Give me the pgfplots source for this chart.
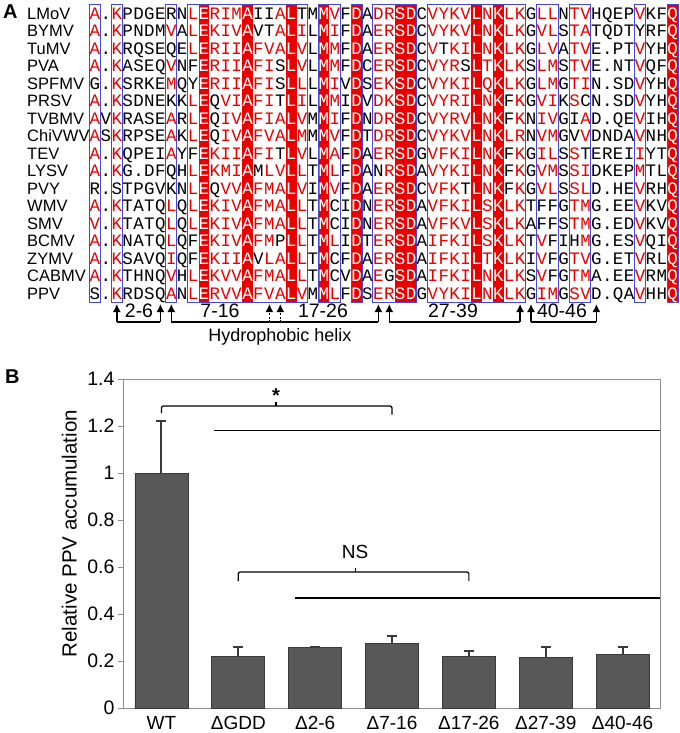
\documentclass[border=0pt]{standalone}
\usepackage{pgfplots}
\pgfplotsset{compat=1.18}
\usepackage{fontspec}
\setmainfont{Liberation Sans}
\newfontfamily\alnmono{Liberation Mono}
\usetikzlibrary{arrows.meta}
\definecolor{cr}{RGB}{235,0,0}
\definecolor{ck}{RGB}{0,0,0}
\definecolor{cw}{RGB}{255,255,255}
\definecolor{boxblue}{RGB}{70,70,225}
\definecolor{fillred}{RGB}{235,0,0}
\definecolor{bargray}{RGB}{88,88,88}
\definecolor{bardark}{RGB}{58,58,58}
\definecolor{axgray}{RGB}{140,140,140}
\newcount\cc
\def\alnfont{\alnmono\fontsize{17.5bp}{20bp}\selectfont}
\def\namefont{\fontsize{16.5bp}{20bp}\selectfont}
\def\annfont{\fontsize{19.5bp}{22bp}\selectfont}
\def\drawcell#1#2{\node[anchor=base,inner sep=0pt,text=c#2,font=\alnfont] at ({95+(\the\cc-1)*10.9},{\yy+5.8}) {#1};}
\def\procrow#1#2\endrow#3#4\endrow{\global\advance\cc by 1 \drawcell{#1}{#3}\ifx\relax#2\relax\else\procrow#2\endrow#4\endrow\fi}
\def\alnrow#1#2#3#4{\def\yy{#1}\global\cc=0 \node[anchor=base west,inner sep=0pt,font=\namefont] at (27,{#1+6}) {#2};\procrow#3\endrow#4\endrow}
\def\cx#1{95+(#1-1)*10.9}
\begin{document}
\begin{tikzpicture}
\useasboundingbox (0bp,0bp) rectangle (680bp,-733bp);
\begin{scope}[x=1bp,y=-1bp]
\node[anchor=base west,inner sep=0pt,font=\fontsize{20bp}{22bp}\selectfont\bfseries] at (3,18) {A};
\node[anchor=base west,inner sep=0pt,font=\fontsize{20bp}{22bp}\selectfont\bfseries] at (5,383) {B};
\foreach \c in {11,15,19,22,25,29,30,36,38,54} {\fill[fillred] ({\cx{\c}-5.45},4.5) rectangle ({\cx{\c}+5.45},302);}
\foreach \a/\b in {1/1,3/3,8/8,10/20,22/23,25/25,27/30,32/40,42/43,45/46,51/51,54/54} {\draw[boxblue,line width=1bp] ({\cx{\a}-5.45},4.5) rectangle ({\cx{\b}+5.45},302);}
\alnrow{13.3}{LMoV}{A.KPDGERNL ERIMAIIALT MMVFDADRSD CVYKVLNKLK GLLNTVHQEP VKFQ}{rkrkkkkkkr wrrrwkkrwk kwrkwkrrww krrrrwrwrr krrkrrkkkk rkkw}
\alnrow{30.8}{BYMV}{A.KPNDMVAL EKIVAVTALI LMIFDAERSD CVYKVLNKLK GVLSTATQDT YRFQ}{rkrkkkkrkr wrrrwkkrwr kwrkwkrrww krrrrwrwrr krrkrrkkkk kkkw}
\alnrow{48.3}{TuMV}{A.KRQSEQEL ERIIAFVALV LMMFDAERSD CVTKILNKLK GLVATVE.PT VYHQ}{rkrkkkkkkr wrrrwrrrwr kwrkwkrrww krkrrwrwrr krrkrrkkkk rkkw}
\alnrow{65.8}{PVA}{A.KASEQVNF ERIIAFISLV LMMFDCERSD CVYRSLTKLK SLMSTVE.NT VQFQ}{rkrkkkkrkk wrrrwrrkwr kwrkwkrrww krrrkwrwrr krrkrrkkkk rkkw}
\alnrow{83.3}{SPFMV}{G.KSRKEMQY ERIIAFISLL LMIVDSEKSD CVYKILQKLK GLMGTIN.SD VYHQ}{kkrkkkkrkk wrrrwrrkwr kwrkwkrrww krrrrwrwrr krrkrrkkkk rkkw}
\alnrow{100.8}{PRSV}{A.KSDNEKKL EQVIAFITLI LMMIDVDKSD CVYRILNKFK GVIKSCN.SD VYHQ}{rkrkkkkkkr wkrrwrrkwr kwrkwkrrww krrrrwrwkr krrkrkkkkk rkkw}
\alnrow{118.3}{TVBMV}{AVKRASEARL EQIVAFIALV MMIFDNDRSD CVYRVLNKFK NIVGIAD.QE VIHQ}{rkrkkkkrkr wkrrwrrrwr kwrkwkrrww krrrrwrwkr krrkkrkkkk rkkw}
\alnrow{135.8}{ChiVWV}{ASKRPSEAKL EQIVAFVALM MMVFDTDRSD CVYKVLNKLR NVMGVVDNDA VNHQ}{rkrkkkkrkr wkrrwrrrwr kwrkwkrrww krrrrwrwrr krrkkrkkkk rkkw}
\alnrow{153.3}{TEV}{A.KQPEIAYF EKIIAFITLV LMAFDAERSD GVFKILNKFK GILSSTEREI IYTQ}{rkrkkkkrkk wrrrwrrkwr kwrkwkrrww krrrrwrwkr krrkrkkkkk rkkw}
\alnrow{170.8}{LYSV}{A.KG.DFQHL EKMIAMLVLL TMLFDANRSD AVYKILNKFK GVMSSIDKEP MTLQ}{rkrkkkkkkr wrrrwkrrwr kwrkwkkrww krrrrwrwkr krrkrrkkkk rkkw}
\alnrow{188.3}{PVY}{R.STPGVKNL EQVVAFMALV IMVFDAERSD CVFKTLNKFK GVLSSLD.HE VRHQ}{kkkkkkkkkr wkrrwrrrwr kwrkwkrrww krrrkwrwkr krrkrrkkkk rkkw}
\alnrow{205.8}{WMV}{A.KTATQLQL EKIVAFMALL TMCIDNERSD AVFKILSKLK TFFGTMG.EE VKVQ}{rkrkkkkrkr wrrrwrrrwr kwkkwkrrww krrrrwrwrr kkkkrrkkkk rkkw}
\alnrow{223.3}{SMV}{V.KTATQLQL EKIVAFMALL TMCIDNERSD AVFKVLSKLK AFFSTMG.ED VKVQ}{rkrkkkkrkr wrrrwrrrwr kwkkwkrrww krrrrwrwrr kkkkrrkkkk rkkw}
\alnrow{240.8}{BCMV}{A.KNATQLQF EKIVAFMPLL TMLIDTERSD AIFKILSKLK TVFIHMG.ES VQIQ}{rkrkkkkrkk wrrrwrrkwr kwrkwkrrww krrrrwrwrr krkkkrkkkk rkkw}
\alnrow{258.3}{ZYMV}{A.KSAVQIQF EKIIAVLALL TMCFDAERSD AIFKILTKLK IVFGTVG.ET VRLQ}{rkrkkkkrkk wrrrwkrrwr kwkkwkrrww krrrrwrwrr krkkrrkkkk rkkw}
\alnrow{275.8}{CABMV}{A.KTHNQVHL EKVVAFMALL TMCVDAEGSD AIFKILNKLK SVFGTMA.EE VRMQ}{rkrkkkkrkr wrrrwrrrwr kwkkwkrkww krrrrwrwrr krkkrrkkkk rkkw}
\alnrow{293.3}{PPV}{S.KRDSQANL ERVVAFVALV MMLFDSERSD GVYKILNKLK GIMGSVD.QA VHHQ}{kkrkkkkrkr wrrrwrrrwr kwrkwkrrww krrrrwrwrr krrkrrkkkk rkkw}
% deletion annotation
\foreach \c in {3,7,8,27,28,40,41,47} {\draw[-{Latex[length=8bp,width=8bp]},line width=1.5bp] ({\cx{\c}},322) -- ({\cx{\c}},304);}
\foreach \c in {17,18} {\draw[-{Latex[length=8bp,width=8bp]},line width=1.5bp,dash pattern=on 2bp off 1.5bp] ({\cx{\c}},322) -- ({\cx{\c}},304);}
\draw[line width=1.5bp] ({\cx{3}},322) -- ({\cx{7}},322);
\draw[line width=1.5bp] ({\cx{8}},322) -- ({\cx{27}},322);
\draw[line width=1.5bp] ({\cx{28}},322) -- ({\cx{40}},322);
\draw[line width=1.5bp] ({\cx{41}},322) -- ({\cx{47}},322);
\node[font=\annfont] at (139,311) {2-6};
\node[font=\annfont] at (220,311) {7-16};
\node[font=\annfont] at (323,311) {17-26};
\node[font=\annfont] at (453,311) {27-39};
\node[font=\annfont] at (562,311) {40-46};
\node[font=\fontsize{18bp}{20bp}\selectfont] at (280,337) {Hydrophobic helix};
\end{scope}
\begin{axis}[
 at={(123bp,-708bp)}, anchor=south west, scale only axis,
 width=538bp, height=329bp,
 xmin=-0.5, xmax=6.5, ymin=0, ymax=1.4,
 xtick={0,1,2,3,4,5,6},
 xticklabels={WT,ΔGDD,Δ2-6,Δ7-16,Δ17-26,Δ27-39,Δ40-46},
 ytick={0,0.2,0.4,0.6,0.8,1,1.2,1.4},
 axis line style={axgray, line width=1bp},
 every tick/.style={axgray, line width=1bp},
 xtick style={draw=none},
 ytick pos=left, tick align=outside, major tick length=5bp,
 yticklabel style={font=\fontsize{19.5bp}{22bp}\selectfont},
 xticklabel style={font=\fontsize{19bp}{22bp}\selectfont},
 /pgf/number format/assume math mode=true,
 ylabel={Relative PPV accumulation},
 every axis y label/.style={at={(axis description cs:-0.1,0.53)}, rotate=90, anchor=center, font=\fontsize{20.5bp}{22bp}\selectfont},
 ybar, bar width=0.69,
 clip=false,
]
\addplot[fill=bargray, draw=bardark, line width=0.8bp,
 error bars/.cd, y dir=plus, y explicit,
 error bar style={bardark, line width=2bp},
 error mark options={rotate=90, bardark, line width=2bp, mark size=5bp}]
 table[x=x, y=y, y error=e] {
x y e
0 1.000 0.220
1 0.218 0.041
2 0.258 0.003
3 0.274 0.034
4 0.219 0.025
5 0.216 0.042
6 0.227 0.033
};
\draw[line width=1.2bp, rounded corners=2bp] (axis cs:0,1.255) -- (axis cs:0,1.285) -- (axis cs:3,1.285) -- (axis cs:3,1.248);
\draw[line width=1.2bp] (axis cs:1.49,1.285) -- (axis cs:1.49,1.303);
\node[font=\fontsize{20bp}{20bp}\selectfont\bfseries] at (axis cs:1.49,1.33) {*};
\draw[line width=1.5bp] (axis cs:0.68,1.18) -- (axis cs:6.49,1.18);
\draw[line width=1.2bp, rounded corners=2bp] (axis cs:1,0.54) -- (axis cs:1,0.579) -- (axis cs:4,0.579) -- (axis cs:4,0.54);
\draw[line width=1.2bp] (axis cs:2.52,0.579) -- (axis cs:2.52,0.597);
\node[font=\fontsize{19bp}{20bp}\selectfont] at (axis cs:2.52,0.664) {NS};
\draw[line width=1.5bp] (axis cs:1.74,0.468) -- (axis cs:6.49,0.468);
\end{axis}
\end{tikzpicture}
\end{document}
